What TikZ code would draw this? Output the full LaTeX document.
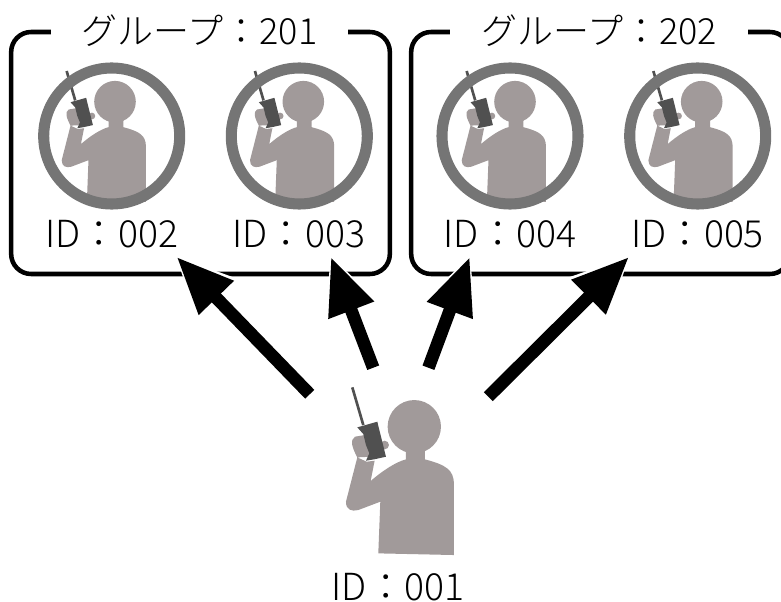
\documentclass[tikz,border=0pt]{standalone}
\usepackage{fontspec}
\setmainfont{Noto Sans CJK JP Light}
\usetikzlibrary{arrows.meta}
\definecolor{personcol}{HTML}{A19A9A}
\definecolor{phonecol}{HTML}{505050}
\definecolor{ringcol}{HTML}{757575}
\tikzset{
    person/.pic={
        \begin{scope}[scale=1/3, shift={(-343,-170)}]
            \fill[personcol] (343,170) circle (80);
            \fill[personcol] (318,235) -- (318,268) .. controls (290,275) and (250,300) .. (212,333)
                -- (224,272) -- (200,275) -- (172,262) .. controls (155,230) and (150,210) .. (165,200)
                -- (195,195) -- (215,260) -- (172,262) -- (138,395) .. controls (138,420) and (155,425) .. (175,420)
                -- (241,395) -- (235,550) -- (462,555) -- (462,340) .. controls (460,300) and (440,285) .. (375,268)
                -- (375,235) -- cycle;
            \fill[personcol] (254,225) circle (13);
            \fill[phonecol] (172,172) -- (232,155) -- (258,260) -- (222,268) -- (198,272) -- (208,250)
                -- (198,225) -- (190,192) -- cycle;
            \draw[phonecol, line width=2pt] (157,52) -- (190,165);
        \end{scope}
    },
    ring/.style={draw=ringcol, line width=8.3pt, circle, minimum size=102pt, inner sep=0pt},
    groupbox/.style={draw, line width=3.4pt, rounded corners=15pt, minimum width=284pt, minimum height=181.5pt, inner sep=0pt},
    grouptitle/.style={fill=white, font=\fontsize{27pt}{27pt}\selectfont, inner sep=0pt, text height=20pt, text depth=0pt, minimum width=223pt},
    idlabel/.style={font=\fontsize{28pt}{28pt}\selectfont, inner sep=0pt, text height=20pt, text depth=0pt, minimum width=110pt, minimum height=33pt},
    callhalo/.style={white, line width=18pt, shorten >=-2pt, -{Triangle[length=56pt,width=48pt]}},
    call/.style={line width=9.5pt, -{Triangle[length=43pt,width=34pt]}},
}

\begin{document}
\begin{tikzpicture}[x=0.75pt, y=-0.75pt]
    \useasboundingbox (0,0) rectangle (781,602);
    % groups
    \node[groupbox] (grp201) at (200.5,153) {};
    \node[groupbox] (grp202) at (600.5,153) {};
    % receivers
    \pic at (115,101.7) [scale=.78] {person};
    \pic at (303.3,101.7) [scale=.78] {person};
    \pic at (515,101.7) [scale=.78] {person};
    \pic at (701.7,101.7) [scale=.78] {person};
    \node[ring] (ring002) at (111.7,136) {};
    \node[ring] (ring003) at (299.3,136) {};
    \node[ring] (ring004) at (510,136) {};
    \node[ring] (ring005) at (697.7,136) {};
    \node[idlabel] (id002) at (111.8,234.5) {ID：002};
    \node[idlabel] (id003) at (299,234.5) {ID：003};
    \node[idlabel] (id004) at (510,234.5) {ID：004};
    \node[idlabel] (id005) at (697.7,234.5) {ID：005};
    % sender
    \pic at (414.3,426.7) {person};
    \node[idlabel, minimum height=0pt] (id001) at (398,587) {ID：001};
    \node[inner sep=0pt, minimum width=133.5pt, minimum height=144pt] (sender) at (399,464) {};
    % calls
    \foreach \from/\to in {142.2/id002.-19.5, 105.7/id003.-35, 73.2/id004.-151, 37.8/id005.-162.5} {
        \draw[callhalo] (sender.\from) -- (\to);
    }
    \foreach \from/\to in {142.2/id002.-19.5, 105.7/id003.-35, 73.2/id004.-151, 37.8/id005.-162.5} {
        \draw[call] (sender.\from) -- (\to);
    }
    % titles
    \node[grouptitle] (title201) at (199.5,31.5) {グループ：201};
    \node[grouptitle] (title202) at (599,31.5) {グループ：202};
\end{tikzpicture}
\end{document}
